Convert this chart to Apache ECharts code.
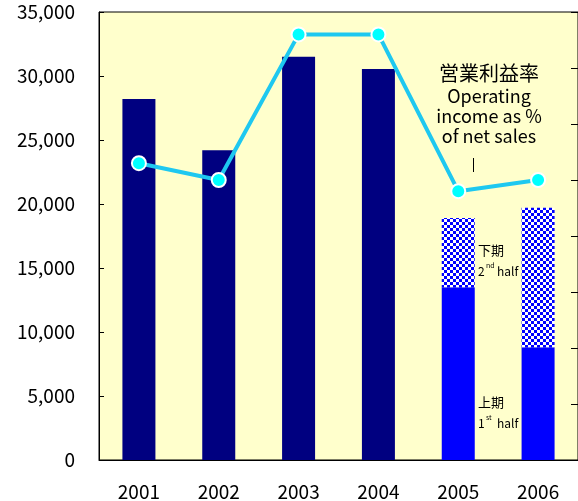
<!DOCTYPE html>
<html>
<head>
<meta charset="utf-8">
<script src="https://cdn.jsdelivr.net/npm/echarts@6/dist/echarts.min.js"></script>
<style>
  html, body { margin: 0; padding: 0; background: #fff; }
  #chart { width: 578px; height: 501px; }
</style>
</head>
<body>
<div id="chart"></div>
<script>
var years = ['2001', '2002', '2003', '2004', '2005', '2006'];
// full-year sales for 2001-2004, split by half for 2005-2006
var annualSales = [28200, 24200, 31500, 30550, null, null];
var firstHalf = [null, null, null, null, 13500, 8800];
var secondHalf = [null, null, null, null, 5400, 10900];
// operating income as % of net sales (right axis, unlabeled)
var opMargin = [10.6, 10.0, 15.2, 15.2, 9.6, 10.0];

var font = '"Noto Sans CJK JP", "DejaVu Sans", sans-serif';

var makeChecker = function () {
  var c = document.createElement('canvas');
  c.width = 6; c.height = 6;
  var ctx = c.getContext('2d');
  ctx.fillStyle = '#ffffff';
  ctx.fillRect(0, 0, 6, 6);
  ctx.fillStyle = '#0000ff';
  ctx.fillRect(0, 0, 3, 3);
  ctx.fillRect(3, 3, 3, 3);
  return c;
};

var lowerData = years.map(function (y, i) {
  if (annualSales[i] != null) {
    return { value: annualSales[i], itemStyle: { color: '#000080' } };
  }
  return { value: firstHalf[i], itemStyle: { color: '#0000ff' } };
});
var upperData = secondHalf.map(function (v) { return v == null ? '-' : v; });

var dom = document.getElementById('chart');
var myChart = echarts.init(dom, null, { renderer: 'canvas' });

var option = {
  backgroundColor: '#ffffff',
  animation: false,
  grid: {
    left: 99, right: -1, top: 12, bottom: 41,
    show: true, backgroundColor: '#ffffcc', borderColor: '#000', borderWidth: 1
  },
  xAxis: {
    type: 'category',
    data: years,
    axisLine: { lineStyle: { color: '#000', width: 1 } },
    axisTick: { inside: true, length: 5, lineStyle: { color: '#000' } },
    axisLabel: { color: '#000', fontSize: 19, fontFamily: font, margin: 22 }
  },
  yAxis: [{
    type: 'value', min: 0, max: 35000, interval: 5000,
    splitLine: { show: false },
    axisLine: { show: true, lineStyle: { color: '#000', width: 1 } },
    axisTick: { show: true, inside: true, length: 5, lineStyle: { color: '#000' } },
    axisLabel: {
      color: '#000', fontSize: 19, fontFamily: font, margin: 24,
      formatter: function (v) { return v.toLocaleString('en-US'); }
    }
  }, {
    type: 'value', min: 0, max: 16, interval: 2, position: 'right',
    splitLine: { show: false },
    axisLine: { show: true, lineStyle: { color: '#000', width: 1 } },
    axisTick: { show: true, inside: true, length: 7, lineStyle: { color: '#000' } },
    axisLabel: { show: false }
  }],
  series: [{
    type: 'bar', stack: 'sales', barWidth: 33,
    data: lowerData
  }, {
    type: 'bar', stack: 'sales', barWidth: 33,
    itemStyle: { color: { image: makeChecker(), repeat: 'repeat' } },
    data: upperData
  }, {
    type: 'line', yAxisIndex: 1, data: opMargin,
    symbol: 'circle', symbolSize: 14,
    lineStyle: { color: '#1ec8f0', width: 4 },
    itemStyle: { color: '#00ffff', borderColor: '#ffffff', borderWidth: 2 },
    z: 5
  }],
  graphic: [
    { type: 'text', x: 489, y: 63, style: { text: '営業利益率', fontSize: 20, fontFamily: font, fill: '#000', align: 'center' } },
    { type: 'text', x: 489, y: 86, style: { text: 'Operating\nincome as %\nof net sales', fontSize: 18, lineHeight: 20, fontFamily: font, fill: '#000', align: 'center' } },
    { type: 'line', shape: { x1: 473.5, y1: 158, x2: 473.5, y2: 172 }, style: { stroke: '#000', lineWidth: 1 } },
    { type: 'text', x: 478, y: 244, style: { text: '下期', fontSize: 13, fontFamily: font, fill: '#000' } },
    { type: 'text', x: 478, y: 265, style: { text: '2', fontSize: 12, fontFamily: font, fill: '#000' } },
    { type: 'text', x: 486, y: 262, style: { text: 'nd', fontSize: 7, fontFamily: font, fill: '#000' } },
    { type: 'text', x: 497, y: 265, style: { text: 'half', fontSize: 12, fontFamily: font, fill: '#000' } },
    { type: 'text', x: 478, y: 396, style: { text: '上期', fontSize: 13, fontFamily: font, fill: '#000' } },
    { type: 'text', x: 478, y: 417, style: { text: '1', fontSize: 12, fontFamily: font, fill: '#000' } },
    { type: 'text', x: 486, y: 414, style: { text: 'st', fontSize: 7, fontFamily: font, fill: '#000' } },
    { type: 'text', x: 497, y: 417, style: { text: 'half', fontSize: 12, fontFamily: font, fill: '#000' } }
  ]
};

myChart.setOption(option, true);
</script>
</body>
</html>
